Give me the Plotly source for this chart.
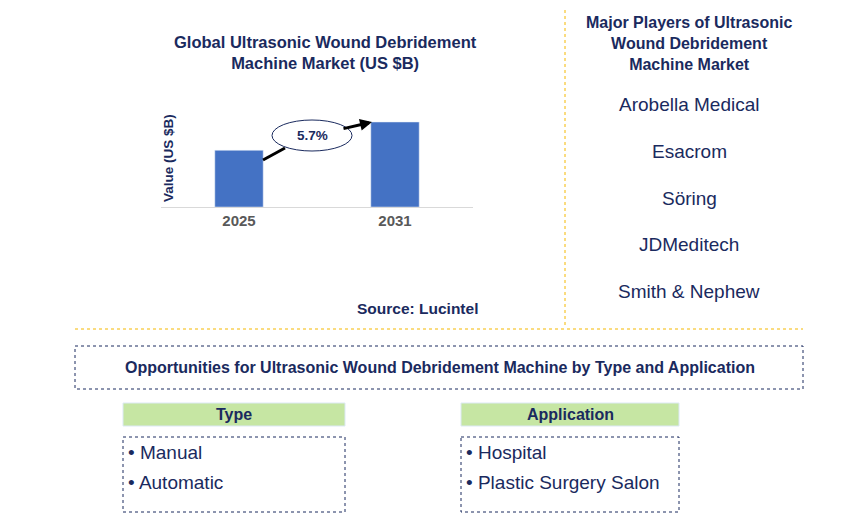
import plotly.graph_objects as go

W, H = 860, 524  # page body adds an 8px offset
OFF = 8
years = ["2025", "2031"]
values = [1.0, 1.5]
cagr = "5.7%"
players = ["Arobella Medical", "Esacrom", "Söring", "JDMeditech", "Smith & Nephew"]
types = ["Manual", "Automatic"]
applications = ["Hospital", "Plastic Surgery Salon"]

NAVY = "#1a2a5e"
FONT = "Liberation Sans, Arial, sans-serif"


def px(x):
    return (x - OFF) / W


def py(y):
    return 1 - (y - OFF) / H


def text(fig, x, y, s, size, **kw):
    fig.add_annotation(x=px(x), y=py(y), xref="paper", yref="paper", showarrow=False,
                       text=s, font=dict(size=size, color=NAVY, family=FONT),
                       xanchor=kw.pop("xanchor", "center"), yanchor="middle", **kw)


fig = go.Figure()
fig.add_trace(go.Bar(x=years, y=values, marker_color="#4472c4", width=0.31))

fig.update_layout(
    width=W, height=H, margin=dict(l=0, r=0, t=0, b=0),
    plot_bgcolor="white", paper_bgcolor="white", showlegend=False,
    font=dict(family=FONT, color=NAVY),
    xaxis=dict(domain=[px(161), px(473)], showline=True, linecolor="#d9d9d9",
               ticks="", tickfont=dict(size=15, color="#595959", family=FONT),
               tickprefix="<b>", ticksuffix="</b>", fixedrange=True),
    yaxis=dict(domain=[py(207), py(105)], range=[0, 1.8], showticklabels=False,
               showgrid=False, zeroline=False, fixedrange=True),
)

# chart titles
text(fig, 325, 52, "<b>Global Ultrasonic Wound Debridement<br>Machine Market (US $B)</b>", 16.5)
text(fig, 168, 158, "<b>Value (US $B)</b>", 13.5, textangle=-90)
text(fig, 417, 308, "<b>Source: Lucintel</b>", 15.5)

# growth arrow passing behind the ellipse
fig.add_shape(type="line", xref="paper", yref="paper", x0=px(263), y0=py(160), x1=px(285), y1=py(148),
              line=dict(color="black", width=3))
fig.add_annotation(x=px(372), y=py(122), ax=-30, ay=7, xref="paper", yref="paper",
                   axref="pixel", ayref="pixel", showarrow=True, arrowhead=2, arrowwidth=3,
                   arrowsize=0.8, arrowcolor="black", text="")
fig.add_shape(type="circle", xref="paper", yref="paper", x0=px(272), x1=px(352),
              y0=py(151), y1=py(120), fillcolor="white", line=dict(color=NAVY, width=1))
text(fig, 312, 136, f"<b>{cagr}</b>", 13.5)

# dividers
fig.add_shape(type="line", xref="paper", yref="paper", x0=px(565), x1=px(565), y0=py(10), y1=py(327),
              line=dict(color="#f5b800", width=1, dash="dot"))
fig.add_shape(type="line", xref="paper", yref="paper", x0=px(75), x1=px(803), y0=py(329), y1=py(329),
              line=dict(color="#f5b800", width=1, dash="dot"))

# players
text(fig, 689, 43, "<b>Major Players of Ultrasonic<br>Wound Debridement<br>Machine Market</b>", 16)
for i, name in enumerate(players):
    text(fig, 689, 105 + i * 46.5, name, 19)

# opportunities box
fig.add_shape(type="rect", xref="paper", yref="paper", x0=px(75), x1=px(803), y0=py(346), y1=py(389),
              line=dict(color=NAVY, width=1, dash="dot"))
text(fig, 440, 367, "<b>Opportunities for Ultrasonic Wound Debridement Machine by Type and Application</b>", 16)

for x0, x1, head, items in [(123, 345, "Type", types), (461, 679, "Application", applications)]:
    fig.add_shape(type="rect", xref="paper", yref="paper", x0=px(x0), x1=px(x1), y0=py(403), y1=py(426),
                  fillcolor="#c6e6a3", line=dict(color="#dce9f5", width=1))
    text(fig, (x0 + x1) / 2, 414.5, f"<b>{head}</b>", 16)
    fig.add_shape(type="rect", xref="paper", yref="paper", x0=px(x0), x1=px(x1), y0=py(437), y1=py(512),
                  line=dict(color=NAVY, width=1, dash="dot"))
    for j, it in enumerate(items):
        text(fig, x0 + 3, 452 + j * 30, f"• {it}", 19, xanchor="left")

fig.write_html("out.html")
